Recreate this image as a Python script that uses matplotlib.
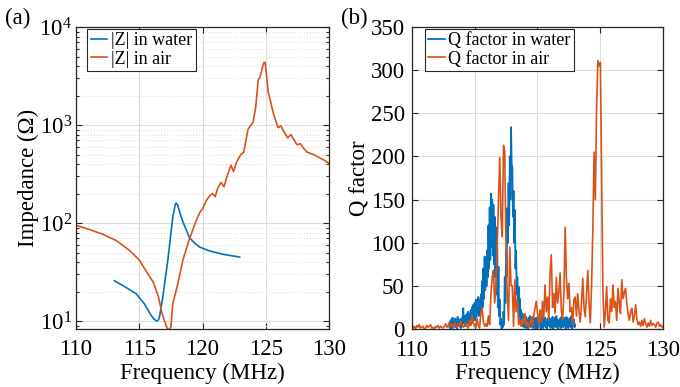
import numpy as np
import matplotlib
matplotlib.use("Agg")
import matplotlib.pyplot as plt
from matplotlib.ticker import LogLocator, NullFormatter

plt.rcParams['font.family'] = ['Liberation Serif', 'DejaVu Serif']
plt.rcParams['mathtext.fontset'] = 'stix'

BLUE = '#0072BD'
ORANGE = '#D95319'

# ---------------- (a) impedance ----------------
z_water_f = [113.03, 113.96, 114.75, 115.4, 115.94, 116.2, 116.36, 116.5, 116.6, 116.86,
             117.26, 117.65, 117.85, 117.92, 118.05, 118.2, 118.45, 118.97, 119.4, 119.76,
             120.55, 121.6, 122.93]
z_water = [25.8, 22, 19, 15, 11.4, 10.4, 10.0, 10.2, 11, 17.6,
           42, 115, 155, 160, 152, 128, 103, 71, 62, 57,
           52, 48, 45]

z_air_f = [110.0, 111.05, 112.1, 113.2, 114.2, 115.0, 115.5, 116.1, 116.5, 116.8,
           117.1, 117.3, 117.5, 117.65, 118.05, 118.45, 118.97, 119.5, 119.8, 120.03,
           120.3, 120.6, 120.8, 121.0, 121.2, 121.45, 121.7, 121.9, 122.25, 122.45,
           122.7, 123.03, 123.25, 123.6, 124.0, 124.2, 124.4, 124.55, 124.7, 124.85,
           124.96, 125.2, 125.4, 125.6, 125.97, 126.2, 126.45, 126.73, 126.99, 127.2,
           127.47, 127.74, 128.0, 128.27, 128.5, 128.8, 129.05, 129.3, 129.6, 129.9, 130.0]
z_air = [95, 86, 77, 66, 53, 42, 33, 25, 18, 12,
         9.1, 8.0, 8.7, 15, 24, 42, 69, 106, 129, 141,
         170, 192, 200, 186, 225, 260, 234, 290, 390, 335,
         420, 500, 525, 905, 1070, 1500, 2850, 3100, 3700, 4350,
         4350, 2150, 1700, 1320, 940, 980, 850, 740, 800, 720,
         630, 645, 580, 530, 515, 500, 480, 460, 440, 415, 405]

# ---------------- (b) Q factor ----------------
q_water_f = np.round(np.arange(113.0, 123.0001, 0.05), 2)
q_water = [2, 9, 0, 11, 3, 13, 1, 8, 4, 12, 2, 10, 0, 14, 5, 9, 3, 11, 1, 12,
           4, 13, 24, 6, 15, 3, 16, 5, 18, 7, 20, 4, 17, 8, 22, 6, 25, 9, 28, 12,
           30, 10, 34, 14, 28, 18, 37, 15, 33, 20, 40, 22, 55, 25, 70, 35, 84, 45, 80, 50,
           91, 60, 120, 70, 141, 80, 157, 95, 150, 85, 144, 75, 130, 60, 118, 40, 95, 25, 72, 15,
           34, 5, 12, 0, 8, 2, 20, 5, 60, 30, 91, 60, 140, 100, 169, 120, 200, 150, 234, 190,
           188, 130, 160, 100, 138, 70, 91, 40, 60, 25, 49, 15, 35, 10, 22, 5, 18, 3, 15, 2,
           12, 1, 14, 3, 10, 0, 13, 4, 15, 2, 11, 5, 14, 1, 9, 3, 12, 0, 13, 4,
           10, 2, 14, 5, 12, 0, 9, 3, 15, 1, 11, 4, 13, 2, 8, 0, 12, 5, 14, 3,
           9, 1, 12, 4, 14, 0, 10, 3, 13, 2, 15, 5, 11, 0, 9, 4, 12, 1, 14, 3,
           11, 2, 13, 5, 9, 0, 14, 3, 12, 1, 10, 4, 13, 2, 15, 0, 9, 3, 11, 2,
           5]

q_air_f = np.round(np.arange(110.0, 130.0001, 0.1), 1)
q_air = [2, 1, 3, 0, 4, 2, 5, 1, 2, 3, 0, 1, 4, 2, 3, 5, 1, 2, 0, 3, 2, 4, 1, 3, 2, 1, 3, 6, 2, 4,
         8, 3, 5, 2, 7, 4, 2, 6, 3, 9, 5, 2, 4, 7, 3, 1, 10, 4, 16, 8,
         3, 2, 12, 4, 1, 18, 25, 8, 3, 6,
         3, 15, 5, 40, 60, 68, 30, 49, 95, 150,
         199, 130, 107, 213, 205, 90, 40, 10, 95, 50,
         50, 3, 57, 20, 34, 5, 10, 3, 12, 6,
         18, 4, 8, 2, 6, 13, 3, 15, 24, 32,
         18, 5, 22, 8, 32, 12, 51, 20, 37, 10,
         65, 86, 25, 41, 18, 60, 30, 42, 65, 20,
         11, 40, 118, 60, 35, 53, 20, 25, 5, 34,
         37, 15, 41, 20, 8, 30, 59, 25, 14, 40,
         68, 30, 7, 50, 115, 205, 150, 257, 311, 305,
         309, 180, 45, 2, 20, 49, 10, 7, 35, 20,
         51, 25, 32, 10, 47, 30, 18, 57, 35, 42,
         47, 30, 18, 10, 20, 24, 8, 15, 28, 12,
         5, 8, 3, 10, 4, 12, 6, 2, 7, 3,
         10, 4, 6, 5, 2, 7, 8, 3, 5, 2,
         3]

freq_ticks = [110, 115, 120, 125, 130]

fig = plt.figure(figsize=(6.8, 3.87), dpi=100)
ax1 = fig.add_axes([0.1118, 0.150, 0.372, 0.780])
ax2 = fig.add_axes([0.6054, 0.150, 0.370, 0.780])

FS = 16.5
LFS = 13

# ----- (a) -----
ax1.semilogy(z_water_f, z_water, color=BLUE, lw=1.2, label='|Z| in water')
ax1.semilogy(z_air_f, z_air, color=ORANGE, lw=1.2, label='|Z| in air')
ax1.set_xlim(110, 130)
ax1.set_ylim(8.3, 1e4)
ax1.set_xticks(freq_ticks)
ax1.yaxis.set_major_locator(LogLocator(base=10, numticks=10))
ax1.yaxis.set_minor_locator(LogLocator(base=10, subs=np.arange(2, 10), numticks=20))
ax1.yaxis.set_minor_formatter(NullFormatter())
ax1.grid(True, which='major', color='#dcdcdc', lw=0.8)
ax1.grid(True, which='minor', axis='y', color='#dcdcdc', lw=0.7, ls=(0, (1, 2)))
ax1.set_xlabel('Frequency (MHz)', fontsize=FS, labelpad=2)
ax1.set_ylabel('Impedance (Ω)', fontsize=FS, labelpad=0)
leg1 = ax1.legend(loc='upper left', bbox_to_anchor=(0.045, 0.995), fontsize=LFS,
                  handlelength=0.9, handletextpad=0.2, borderpad=0.2, labelspacing=0.08,
                  fancybox=False, framealpha=1, edgecolor='#262626', borderaxespad=0)
leg1.get_frame().set_linewidth(0.8)

# ----- (b) -----
ax2.plot(q_water_f, q_water, color=BLUE, lw=1.3, label='Q factor in water')
ax2.plot(q_air_f, q_air, color=ORANGE, lw=1.2, label='Q factor in air')
ax2.set_xlim(110, 130)
ax2.set_ylim(0, 350)
ax2.set_xticks(freq_ticks)
ax2.set_yticks(np.arange(0, 351, 50))
ax2.grid(True, which='major', color='#dcdcdc', lw=0.8)
ax2.set_xlabel('Frequency (MHz)', fontsize=FS, labelpad=1)
ax2.set_ylabel('Q factor', fontsize=FS, labelpad=0)
leg2 = ax2.legend(loc='upper left', bbox_to_anchor=(0.052, 0.995), fontsize=LFS,
                  handlelength=0.9, handletextpad=0.2, borderpad=0.2, labelspacing=0.08,
                  fancybox=False, framealpha=1, edgecolor='#262626', borderaxespad=0)
leg2.get_frame().set_linewidth(0.8)

for ax in (ax1, ax2):
    ax.set_axisbelow(True)
    ax.tick_params(which='both', direction='in', top=True, right=True, labelsize=FS,
                   color='#262626', width=0.8)
    ax.tick_params(which='major', length=4)
    ax.tick_params(which='minor', length=2)
    ax.tick_params(axis='x', pad=7)
    ax.tick_params(axis='y', pad=3)
    for s in ax.spines.values():
        s.set_color('#262626')
        s.set_linewidth(0.9)

ax2.tick_params(axis='y', pad=5)
ax2.tick_params(axis='x', pad=8)

fig.text(0.007, 0.953, '(a)', fontsize=16.5, va='center', ha='left')
fig.text(0.502, 0.953, '(b)', fontsize=16.5, va='center', ha='left')

fig.savefig('out.png', dpi=100)
